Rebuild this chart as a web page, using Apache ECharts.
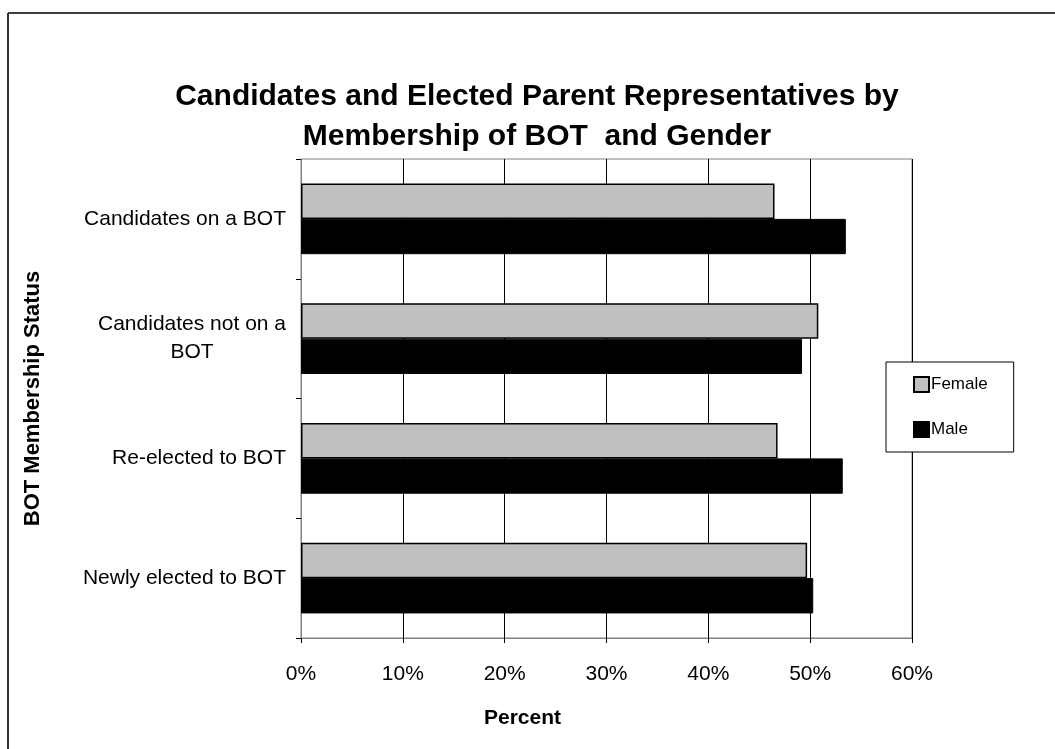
<!DOCTYPE html>
<html>
<head>
<meta charset="utf-8">
<script src="https://cdn.jsdelivr.net/npm/echarts@6/dist/echarts.min.js"></script>
<style>
  html, body { margin: 0; padding: 0; background: #fff; }
  #chart { width: 1055px; height: 749px; }
</style>
</head>
<body>
<div id="chart"></div>
<script>
// categories listed bottom to top (category axis on y runs upward)
const categories = ['Newly elected to BOT', 'Re-elected to BOT', 'Candidates not on a\nBOT', 'Candidates on a BOT'];
const femaleValues = [49.7, 46.8, 50.8, 46.5];
const maleValues = [50.3, 53.2, 49.2, 53.5];
const xTicks = [0, 10, 20, 30, 40, 50, 60];

const font = 'Arial, "Liberation Sans", sans-serif';

const chart = echarts.init(document.getElementById('chart'));

const option = {
  animation: false,
  backgroundColor: '#fff',
  title: {
    text: 'Candidates and Elected Parent Representatives by\nMembership of BOT  and Gender',
    left: 532,
    top: 72,
    textAlign: 'center',
    textStyle: { fontFamily: font, fontSize: 30, fontWeight: 'bold', color: '#000', lineHeight: 40 }
  },
  legend: {
    orient: 'vertical',
    left: 886,
    top: 362,
    padding: [14, 26, 14, 27],
    itemGap: 28,
    itemWidth: 15,
    itemHeight: 15,
    icon: 'rect',
    backgroundColor: '#fff',
    borderColor: '#000',
    borderWidth: 1,
    data: ['Female', 'Male'],
    textStyle: { fontFamily: font, fontSize: 17, color: '#000', padding: [0, 0, 0, -3] }
  },
  grid: {
    left: 301, right: 143, top: 159, bottom: 111,
    show: true,
    borderColor: '#808080',
    borderWidth: 1
  },
  xAxis: {
    type: 'value',
    min: xTicks[0],
    max: xTicks[xTicks.length - 1],
    interval: 10,
    name: 'Percent',
    nameLocation: 'middle',
    nameGap: 70,
    nameTextStyle: { fontFamily: font, fontSize: 21, fontWeight: 'bold', color: '#000', padding: [0, 168, 0, 0] },
    axisLine: { show: true, lineStyle: { color: '#808080', width: 1 } },
    axisTick: { show: true, length: 5, lineStyle: { color: '#000' } },
    axisLabel: {
      margin: 26,
      fontFamily: font, fontSize: 21, color: '#000',
      formatter: v => v + '%'
    },
    splitLine: { show: true, lineStyle: { color: '#000', width: 1 } }
  },
  yAxis: {
    type: 'category',
    data: categories,
    name: 'BOT Membership Status',
    nameLocation: 'middle',
    nameRotate: 90,
    nameGap: 257,
    nameTextStyle: { fontFamily: font, fontSize: 22, fontWeight: 'bold', color: '#000' },
    axisLine: { show: true, lineStyle: { color: '#808080', width: 1 } },
    axisTick: { show: true, length: 5, lineStyle: { color: '#000' } },
    axisLabel: {
      margin: 15,
      fontFamily: font, fontSize: 21, color: '#000',
      formatter: v => v.split('\n').map(s => '{c|' + s + '}').join('\n'),
      rich: {
        c: { fontFamily: font, fontSize: 21, color: '#000', align: 'center', lineHeight: 28 }
      }
    },
    splitLine: { show: false }
  },
  series: [
    {
      name: 'Female',
      type: 'bar',
      data: femaleValues,
      barGap: '0%',
      barCategoryGap: '41%',
      itemStyle: { color: '#C0C0C0', borderColor: '#000', borderWidth: 1.5 }
    },
    {
      name: 'Male',
      type: 'bar',
      data: maleValues,
      itemStyle: { color: '#000', borderColor: '#000', borderWidth: 1 }
    }
  ],
  graphic: [
    { type: 'line', shape: { x1: 8, y1: 13, x2: 1055, y2: 13 }, style: { stroke: '#000', lineWidth: 1.5 } },
    { type: 'line', shape: { x1: 8, y1: 13, x2: 8, y2: 749 }, style: { stroke: '#333', lineWidth: 2 } }
  ]
};

chart.setOption(option);
</script>
</body>
</html>
